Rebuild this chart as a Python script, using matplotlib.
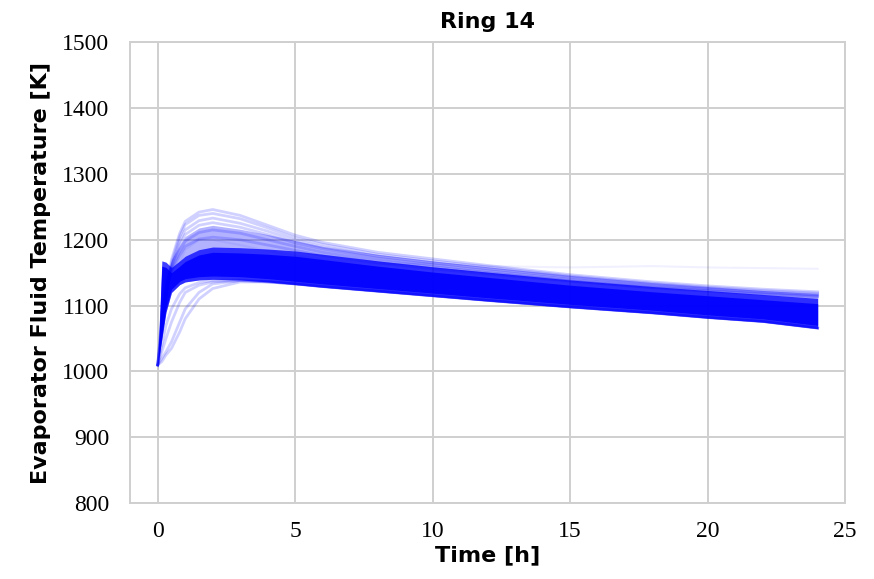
import matplotlib
matplotlib.use("Agg")
import matplotlib.pyplot as plt

# time axis of the ensemble (hours)
time_h = [0, 0.15, 0.3, 0.5, 0.8, 1, 1.5, 2, 3, 4, 5, 6, 8, 10, 12, 15, 18, 20, 22, 24]

# dense core of the ensemble
core_upper = [1010, 1168, 1166, 1158, 1168, 1175, 1185, 1189, 1188, 1186, 1183, 1178,
              1168, 1159, 1151, 1139, 1129, 1123, 1117, 1111]
core_lower = [1010, 1050, 1090, 1120, 1132, 1136, 1139, 1140, 1139, 1136, 1132, 1128,
              1121, 1114, 1107, 1097, 1088, 1081, 1075, 1065]

# medium-density spread above the core
mid_upper = [1010, 1100, 1140, 1170, 1192, 1205, 1218, 1222, 1216, 1208, 1199, 1190,
             1178, 1168, 1159, 1146, 1135, 1129, 1123, 1118]

# individual faint members (hot and slow-rising runs)
members = [
    [1010, 1060, 1120, 1170, 1210, 1228, 1242, 1246, 1237, 1222, 1207, 1196, 1181, 1171, 1161, 1147, 1136, 1130, 1125, 1121],
    [1010, 1060, 1118, 1165, 1205, 1223, 1237, 1240, 1232, 1218, 1203, 1193, 1178, 1168, 1159, 1145, 1134, 1128, 1123, 1119],
    [1010, 1065, 1118, 1160, 1198, 1215, 1229, 1233, 1225, 1213, 1199, 1189, 1175, 1165, 1156, 1143, 1132, 1126, 1121, 1117],
    [1010, 1070, 1120, 1158, 1192, 1208, 1222, 1226, 1219, 1208, 1195, 1186, 1172, 1162, 1153, 1140, 1130, 1125, 1120, 1116],
    [1010, 1080, 1125, 1155, 1183, 1198, 1211, 1215, 1210, 1200, 1190, 1181, 1168, 1159, 1150, 1138, 1128, 1123, 1118, 1114],
    [1010, 1090, 1130, 1152, 1176, 1190, 1201, 1204, 1200, 1192, 1184, 1176, 1165, 1156, 1148, 1137, 1127, 1122, 1117, 1113],
    [1010, 1020, 1030, 1045, 1075, 1095, 1120, 1133, 1138, 1137, 1133, 1129, 1122, 1115, 1108, 1098, 1089, 1082, 1076, 1066],
    [1010, 1015, 1025, 1035, 1060, 1080, 1110, 1126, 1136, 1136, 1133, 1129, 1122, 1115, 1108, 1098, 1089, 1082, 1076, 1066],
    [1010, 1030, 1050, 1075, 1105, 1120, 1131, 1136, 1138, 1136, 1133, 1129, 1122, 1115, 1108, 1098, 1089, 1082, 1076, 1066],
    [1010, 1040, 1070, 1095, 1118, 1127, 1135, 1138, 1139, 1136, 1133, 1129, 1122, 1115, 1108, 1098, 1089, 1082, 1076, 1066],
]
# a single faint late-time outlier
outlier = [1010, 1100, 1140, 1150, 1165, 1185, 1200, 1200, 1192, 1183, 1176, 1170,
           1163, 1164, 1160, 1158, 1160, 1158, 1157, 1156]

x_ticks = [0, 5, 10, 15, 20, 25]
y_ticks = [800, 900, 1000, 1100, 1200, 1300, 1400, 1500]

fig = plt.figure(figsize=(8.74, 5.79), dpi=100)
ax = fig.add_axes([0.149, 0.131, 0.818, 0.796])

blue = "#0000ff"
ax.fill_between(time_h, core_lower, mid_upper, color=blue, alpha=0.3, lw=0, zorder=3)
ax.fill_between(time_h, core_lower, core_upper, color=blue, alpha=0.75, lw=0, zorder=3)
ax.fill_between(time_h,
                [l + 5 for l in core_lower], [u - 8 for u in core_upper],
                color=blue, alpha=0.9, lw=0, zorder=3)
for m in members:
    ax.plot(time_h, m, color=blue, alpha=0.18, lw=2.0, zorder=3)
ax.plot(time_h, outlier, color=blue, alpha=0.06, lw=1.5, zorder=3)

ax.set_xlim(-1, 25)
ax.set_ylim(800, 1500)
ax.set_xticks(x_ticks)
ax.set_yticks(y_ticks)
ax.grid(True, color="#cfcfcf", lw=1.4)
ax.set_axisbelow(True)
ax.tick_params(axis="x", length=0, pad=13)
ax.tick_params(axis="y", length=0, pad=15)
for lab in ax.get_xticklabels() + ax.get_yticklabels():
    lab.set_family("Liberation Serif")
    lab.set_fontsize(17)
for s in ax.spines.values():
    s.set_color("#cfcfcf")
    s.set_linewidth(1.4)

ax.set_title("Ring 14", fontsize=16, fontweight="bold", family="DejaVu Sans", pad=10)
ax.set_xlabel("Time [h]", fontsize=16, fontweight="bold", family="DejaVu Sans", labelpad=2)
ax.set_ylabel("Evaporator Fluid Temperature [K]", fontsize=16, fontweight="bold",
              family="DejaVu Sans", labelpad=8)

fig.savefig("out.png", dpi=100)
